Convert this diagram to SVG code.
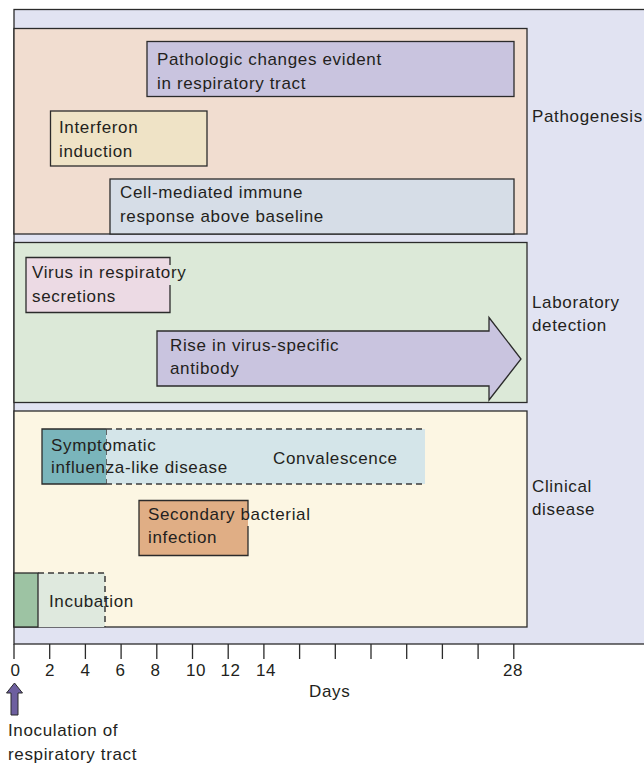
<svg xmlns="http://www.w3.org/2000/svg" width="644" height="765" viewBox="0 0 644 765">
<style>
text{font-family:"Liberation Sans",Arial,sans-serif;font-size:17px;letter-spacing:0.65px;fill:#231f20}
.b{stroke:#2b2b2b;stroke-width:1.3}
.d{stroke:#3a3a3a;stroke-width:1.5;stroke-dasharray:6 4;fill:none}
.tk{stroke:#2b2b2b;stroke-width:1.3}
.tl{text-anchor:middle}
</style>
<g id="background">
<rect x="14" y="9.5" width="640" height="634.5" fill="#e1e3f2" class="b"/>
</g>
<g id="pathogenesis">
<rect x="14" y="28.5" width="513" height="205.5" fill="#f1ddd0" class="b"/>
<text x="532" y="122">Pathogenesis</text>
</g>
<g id="pathologic">
<rect x="147" y="41.5" width="367" height="55" fill="#c9c4df" class="b"/>
<text x="157" y="65">Pathologic changes evident</text>
<text x="157" y="89">in respiratory tract</text>
</g>
<g id="interferon">
<rect x="50.5" y="111" width="156.5" height="55" fill="#efe3c6" class="b"/>
<text x="59" y="133">Interferon</text>
<text x="59" y="157">induction</text>
</g>
<g id="cellmediated">
<rect x="110" y="179" width="404" height="55" fill="#d6dde7" class="b"/>
<text x="120" y="198">Cell-mediated immune</text>
<text x="120" y="222">response above baseline</text>
</g>
<g id="laboratory">
<rect x="14" y="242.5" width="513" height="160" fill="#dce9d8" class="b"/>
<text x="532" y="308">Laboratory</text>
<text x="532" y="331">detection</text>
</g>
<g id="virus">
<rect x="26" y="257.5" width="144" height="55" fill="#ecdae4"/>
<path d="M170 265 V257.5 H26 V312.5 H170 V285" fill="none" class="b"/>
<text x="32" y="278">Virus in respiratory</text>
<text x="32" y="302">secretions</text>
</g>
<g id="antibody">
<path d="M157 331 H489 V317.5 L521 359 L489 400 V386 H157 Z" fill="#c9c4df" class="b"/>
<text x="170" y="351">Rise in virus-specific</text>
<text x="170" y="374">antibody</text>
</g>
<g id="clinical">
<rect x="14" y="411" width="513" height="216" fill="#fcf6e3" class="b"/>
<text x="532" y="492">Clinical</text>
<text x="532" y="515">disease</text>
</g>
<g id="convalescence">
<rect x="106" y="429" width="319" height="55" fill="#d4e5e9"/>
<path d="M106 429 H425 M106 484 H425 M106 429 V484" class="d"/>
<text x="273" y="464">Convalescence</text>
</g>
<g id="symptomatic">
<rect x="42" y="429" width="64" height="55" fill="#7ab5bb"/>
<path d="M106 429 H42 V484 H106" fill="none" class="b"/>
<text x="51" y="451">Symptomatic</text>
<text x="51" y="473">influenza-like disease</text>
</g>
<g id="secondary">
<rect x="139" y="500.5" width="109" height="55" fill="#e0ae85"/>
<path d="M248 512 V500.5 H139 V555.5 H248 V526" fill="none" class="b"/>
<text x="148" y="520">Secondary bacterial</text>
<text x="148" y="543">infection</text>
</g>
<g id="incubation">
<rect x="38" y="573" width="67" height="54" fill="#dfe9de"/>
<path d="M38 573 H105 V627" class="d"/>
<rect x="14" y="573" width="24" height="54" fill="#9dc3a3" class="b"/>
<text x="49" y="607">Incubation</text>
</g>
<g id="axis">
<path class="tk" d="M14 644V659M49.7 644V659M85.4 644V659M121.1 644V659M156.8 644V659M192.5 644V659M228.2 644V659M263.9 644V659M299.6 644V659M335.3 644V659M371 644V659M406.7 644V659M442.4 644V659M478.1 644V659M513.8 644V659"/>
<text class="tl" x="15.5" y="676">0</text>
<text class="tl" x="50" y="676">2</text>
<text class="tl" x="85.5" y="676">4</text>
<text class="tl" x="120.5" y="676">6</text>
<text class="tl" x="155.5" y="676">8</text>
<text class="tl" x="196" y="676">10</text>
<text class="tl" x="230.5" y="676">12</text>
<text class="tl" x="266" y="676">14</text>
<text class="tl" x="513" y="676">28</text>
<text x="309" y="697">Days</text>
</g>
<g id="inoculation">
<path d="M14.5 683 L22.5 693 H18 V715 H11 V693 H6.5 Z" fill="#6d5f9f" stroke="#2b2b2b" stroke-width="1"/>
<text x="8" y="736">Inoculation of</text>
<text x="8" y="760">respiratory tract</text>
</g>
</svg>
